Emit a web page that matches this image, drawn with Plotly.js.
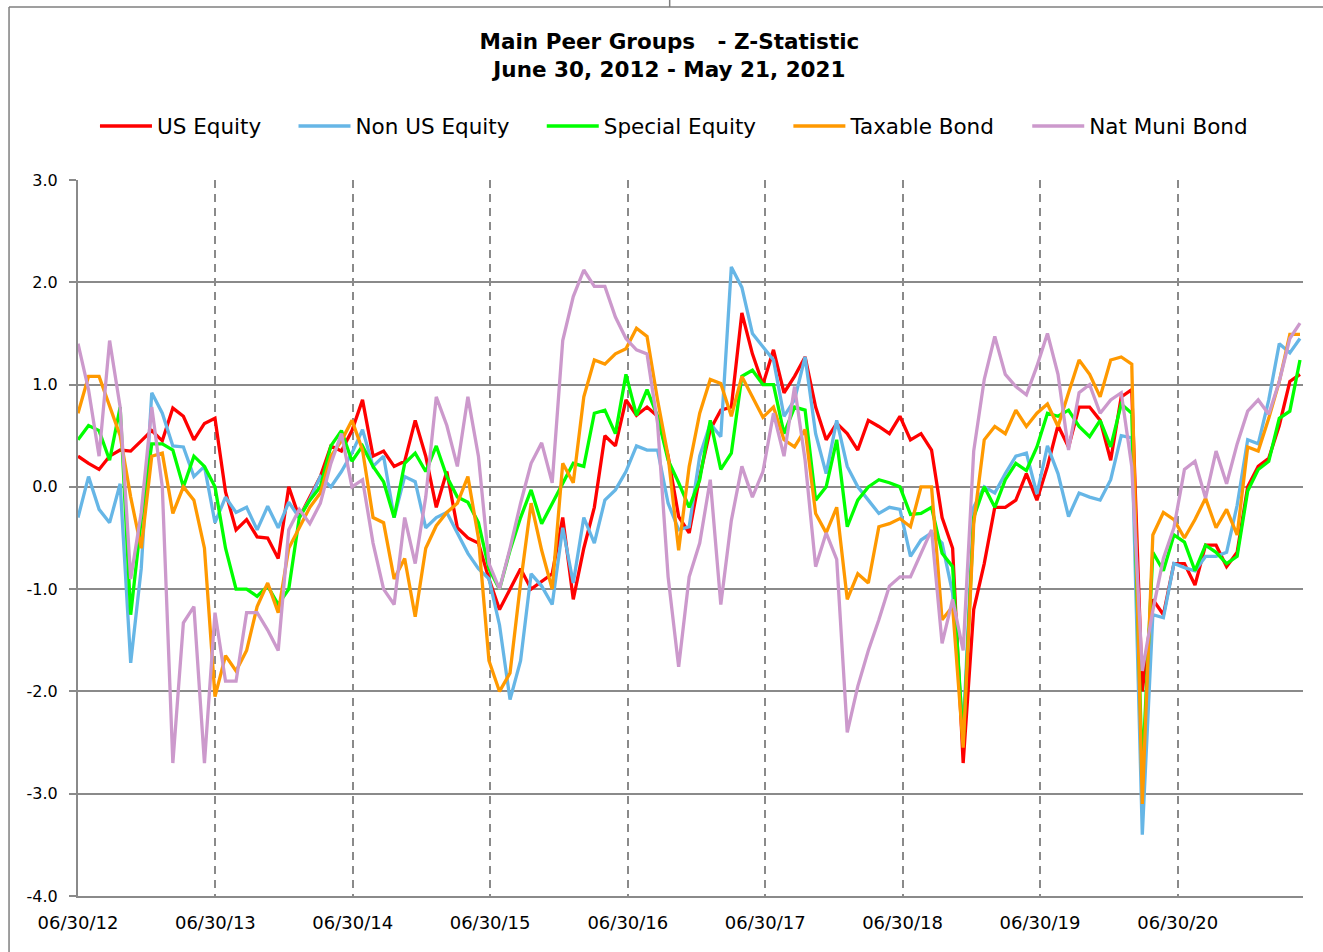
<!DOCTYPE html>
<html>
<head>
<meta charset="utf-8">
<script src="https://cdn.plot.ly/plotly-3.0.1.min.js"></script>
<style>html,body{margin:0;padding:0;background:#fff;}</style>
</head>
<body>
<div id="chart" style="width:1323px;height:952px;"></div>
<script>
// Sample dates: every 28 days from 06/30/2012, last point 05/21/2021
var startDate = '2012-06-30';
var endDate = '2021-05-21';
var stepDays = 28;
var nPoints = 117;

var seriesNames = ['US Equity', 'Non US Equity', 'Special Equity', 'Taxable Bond', 'Nat Muni Bond'];

var usEquity = [
 0.30, 0.23, 0.17, 0.30, 0.36, 0.35, 0.45, 0.55, 0.45, 0.77,
 0.69, 0.46, 0.62, 0.67, -0.05, -0.42, -0.32, -0.49, -0.50, -0.70,
 0.00, -0.30, -0.10, 0.10, 0.40, 0.35, 0.55, 0.85, 0.30, 0.35,
 0.20, 0.25, 0.65, 0.30, -0.20, 0.15, -0.40, -0.50, -0.55, -0.90,
 -1.20, -1.00, -0.80, -1.00, -0.92, -0.85, -0.30, -1.10, -0.60, -0.20,
 0.50, 0.40, 0.85, 0.70, 0.78, 0.69, 0.30, -0.29, -0.45, 0.10,
 0.56, 0.75, 0.78, 1.70, 1.30, 1.00, 1.34, 0.92, 1.08, 1.27,
 0.78, 0.46, 0.62, 0.52, 0.36, 0.65, 0.59, 0.52, 0.69, 0.46,
 0.52, 0.36, -0.30, -0.60, -2.70, -1.20, -0.75, -0.20, -0.20, -0.13,
 0.13, -0.13, 0.20, 0.60, 0.39, 0.78, 0.78, 0.65, 0.26, 0.88,
 0.95, -2.00, -1.10, -1.25, -0.75, -0.75, -0.96, -0.57, -0.57, -0.78,
 -0.64, 0.00, 0.20, 0.28, 0.60, 1.03, 1.10
];
var nonUsEquity = [
 -0.30, 0.10, -0.22, -0.35, 0.03, -1.72, -0.80, 0.92, 0.72, 0.40,
 0.39, 0.10, 0.20, -0.35, -0.10, -0.25, -0.20, -0.42, -0.19, -0.40,
 -0.15, -0.30, -0.12, 0.10, 0.00, 0.15, 0.33, 0.56, 0.20, 0.30,
 -0.30, 0.10, 0.05, -0.40, -0.30, -0.25, -0.45, -0.65, -0.80, -0.90,
 -1.35, -2.08, -1.70, -0.85, -0.97, -1.15, -0.40, -0.94, -0.30, -0.55,
 -0.13, -0.03, 0.15, 0.40, 0.36, 0.36, -0.16, -0.42, -0.39, 0.30,
 0.62, 0.49, 2.15, 1.95, 1.50, 1.37, 1.24, 0.69, 0.85, 1.27,
 0.52, 0.13, 0.65, 0.20, 0.00, -0.13, -0.26, -0.20, -0.22, -0.68,
 -0.52, -0.45, -0.55, -1.04, -2.40, -0.20, 0.00, -0.06, 0.13, 0.30,
 0.33, -0.07, 0.40, 0.13, -0.29, -0.06, -0.10, -0.13, 0.07, 0.50,
 0.48, -3.40, -1.25, -1.28, -0.75, -0.79, -0.82, -0.68, -0.68, -0.64,
 -0.18, 0.46, 0.42, 0.85, 1.40, 1.31, 1.45
];
var specialEquity = [
 0.46, 0.60, 0.55, 0.26, 0.78, -1.25, -0.32, 0.42, 0.42, 0.36,
 0.00, 0.30, 0.20, 0.00, -0.60, -1.00, -1.00, -1.07, -0.97, -1.15,
 -1.00, -0.30, -0.13, 0.00, 0.40, 0.55, 0.25, 0.40, 0.20, 0.05,
 -0.30, 0.23, 0.33, 0.15, 0.40, 0.10, -0.10, -0.15, -0.35, -0.80,
 -1.00, -0.62, -0.30, -0.03, -0.36, -0.16, 0.04, 0.23, 0.20, 0.72,
 0.75, 0.52, 1.10, 0.70, 0.95, 0.69, 0.26, 0.04, -0.20, 0.07,
 0.65, 0.17, 0.33, 1.08, 1.14, 1.00, 1.00, 0.52, 0.78, 0.75,
 -0.13, 0.00, 0.46, -0.39, -0.13, 0.00, 0.07, 0.04, 0.00, -0.27,
 -0.26, -0.20, -0.65, -0.78, -2.50, -0.30, 0.00, -0.20, 0.07, 0.23,
 0.16, 0.39, 0.72, 0.69, 0.75, 0.59, 0.49, 0.65, 0.39, 0.81,
 0.72, -2.80, -0.64, -0.82, -0.47, -0.54, -0.82, -0.57, -0.64, -0.75,
 -0.68, -0.04, 0.17, 0.25, 0.67, 0.74, 1.24
];
var taxableBond = [
 0.72, 1.08, 1.08, 0.78, 0.50, -0.10, -0.60, 0.30, 0.33, -0.26,
 0.00, -0.13, -0.60, -2.05, -1.65, -1.80, -1.60, -1.17, -0.94, -1.23,
 -0.60, -0.40, -0.20, -0.06, 0.30, 0.45, 0.65, 0.36, -0.30, -0.35,
 -0.90, -0.70, -1.27, -0.60, -0.38, -0.25, -0.16, 0.10, -0.50, -1.70,
 -2.00, -1.82, -0.94, -0.16, -0.62, -1.00, 0.23, 0.04, 0.88, 1.24,
 1.20, 1.30, 1.35, 1.55, 1.47, 0.85, 0.30, -0.62, 0.20, 0.72,
 1.05, 1.01, 0.69, 1.08, 0.88, 0.68, 0.78, 0.46, 0.39, 0.56,
 -0.26, -0.45, -0.20, -1.10, -0.85, -0.94, -0.39, -0.36, -0.31, -0.39,
 0.00, 0.00, -1.30, -1.17, -2.55, -0.36, 0.46, 0.59, 0.52, 0.75,
 0.59, 0.72, 0.81, 0.59, 0.92, 1.24, 1.10, 0.88, 1.24, 1.27,
 1.20, -3.10, -0.47, -0.25, -0.32, -0.50, -0.32, -0.11, -0.40, -0.22,
 -0.47, 0.39, 0.35, 0.67, 1.03, 1.49, 1.49
];
var natMuniBond = [
 1.40, 0.95, 0.30, 1.43, 0.78, -0.90, -0.25, 0.78, 0.00, -2.70,
 -1.33, -1.17, -2.70, -1.23, -1.90, -1.90, -1.23, -1.23, -1.40, -1.60,
 -0.42, -0.22, -0.36, -0.16, 0.23, 0.52, 0.00, 0.07, -0.55, -1.00,
 -1.15, -0.30, -0.75, -0.10, 0.88, 0.60, 0.20, 0.88, 0.30, -0.75,
 -1.00, -0.60, -0.16, 0.23, 0.43, 0.04, 1.43, 1.86, 2.12, 1.96,
 1.96, 1.66, 1.45, 1.34, 1.30, 0.62, -0.88, -1.76, -0.88, -0.55,
 0.07, -1.15, -0.33, 0.20, -0.10, 0.15, 0.72, 0.30, 0.98, 0.26,
 -0.78, -0.45, -0.71, -2.40, -1.95, -1.60, -1.30, -0.97, -0.88, -0.88,
 -0.65, -0.42, -1.53, -1.10, -1.60, 0.35, 1.05, 1.47, 1.10, 0.98,
 0.90, 1.18, 1.50, 1.10, 0.36, 0.92, 1.00, 0.72, 0.85, 0.92,
 0.20, -1.80, -1.21, -0.70, -0.40, 0.17, 0.25, -0.11, 0.35, 0.03,
 0.42, 0.74, 0.85, 0.71, 1.03, 1.45, 1.60
];

var seriesValues = [usEquity, nonUsEquity, specialEquity, taxableBond, natMuniBond];
var seriesColors = ['#FF0000', '#66B6E6', '#00FF00', '#FF9900', '#CC99CC'];

var yTickVals = [-4, -3, -2, -1, 0, 1, 2, 3];
var yTickText = ['-4.0', '-3.0', '-2.0', '-1.0', '0.0', '1.0', '2.0', '3.0'];
var xTickStart = '2012-06-30';

// build date axis
var dates = [];
var t0 = Date.parse(startDate + 'T00:00:00Z');
for (var i = 0; i < nPoints - 1; i++) {
  dates.push(new Date(t0 + i * stepDays * 86400000).toISOString().slice(0, 10));
}
dates.push(endDate);

var pad = '&nbsp;&nbsp;&nbsp;&nbsp;';
var traces = seriesNames.map(function (name, k) {
  return {
    type: 'scatter', mode: 'lines',
    name: name + (k < seriesNames.length - 1 ? pad : ''),
    x: dates, y: seriesValues[k],
    line: {color: seriesColors[k], width: 3.3}
  };
});

var gray = '#8a8a8a';
var layout = {
  width: 1323, height: 952,
  margin: {l: 78, r: 20, t: 180, b: 56},
  paper_bgcolor: '#ffffff', plot_bgcolor: '#ffffff',
  font: {family: 'DejaVu Sans, Verdana, sans-serif', color: '#000000'},
  title: {
    text: '<b>Main Peer Groups &nbsp; - Z-Statistic</b><br><b>June 30, 2012 - May 21, 2021</b>',
    x: 0.506, xanchor: 'center', xref: 'container',
    y: 0.9485, yanchor: 'middle', yref: 'container',
    font: {size: 21.5, color: '#000000'}
  },
  showlegend: true,
  legend: {
    orientation: 'h', x: 0.4865, xanchor: 'center', y: 1.0754, yanchor: 'middle',
    font: {size: 21.5}, itemwidth: 52, traceorder: 'normal'
  },
  xaxis: {
    type: 'date', range: ['2012-06-30', '2021-05-29'],
    tick0: xTickStart, dtick: 'M12', tickformat: '%m/%d/%y',
    showgrid: true, gridcolor: gray, gridwidth: 1.5, griddash: '8px,6px',
    showline: true, linecolor: gray, linewidth: 2,
    ticks: '', tickfont: {size: 18}, ticklabelstandoff: 9, zeroline: false
  },
  yaxis: {
    range: [-4, 3], tickvals: yTickVals, ticktext: yTickText,
    showgrid: true, gridcolor: gray, gridwidth: 2,
    showline: true, linecolor: gray, linewidth: 2,
    ticks: 'outside', ticklen: 7, tickcolor: gray, tickwidth: 2,
    tickfont: {size: 16}, ticklabelstandoff: 8, zeroline: false
  },
  shapes: [
    {type: 'line', xref: 'paper', yref: 'paper', x0: -0.0563, x1: -0.0563, y0: 1.2416, y1: -0.08, line: {color: '#7f7f7f', width: 1.5}},
    {type: 'line', xref: 'paper', yref: 'paper', x0: -0.0563, x1: 1.02, y0: 1.2416, y1: 1.2416, line: {color: '#7f7f7f', width: 1.5}},
    {type: 'line', xref: 'paper', yref: 'paper', x0: 0.483, x1: 0.483, y0: 1.2416, y1: 1.26, line: {color: '#7f7f7f', width: 1.5}}
  ]
};

Plotly.newPlot('chart', traces, layout, {displayModeBar: false, responsive: false});
</script>
</body>
</html>
